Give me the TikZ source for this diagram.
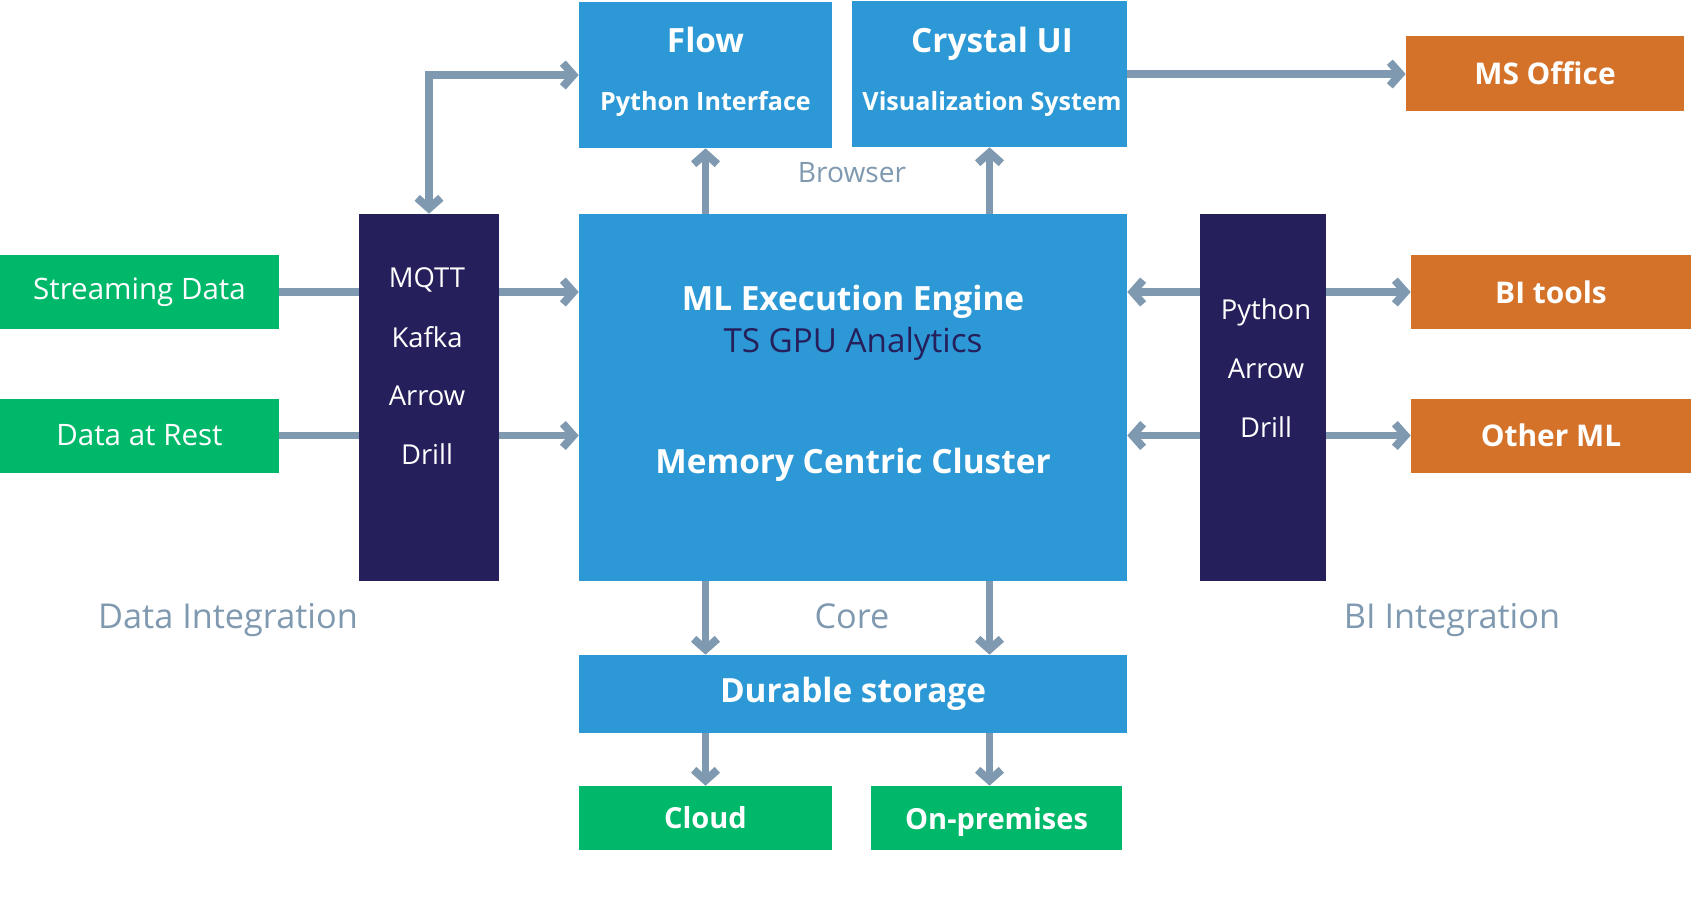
\documentclass[tikz,border=0pt]{standalone}
\usepackage{fontspec}
\setmainfont{Open Sans}
\usetikzlibrary{arrows.meta,positioning}

\definecolor{boxblue}{HTML}{2C99D6}
\definecolor{boxnavy}{HTML}{25205B}
\definecolor{boxgreen}{HTML}{00B86A}
\definecolor{boxorange}{HTML}{D5722A}
\definecolor{linkgrey}{HTML}{7F99B0}

\tikzset{
  box/.style={rectangle, inner sep=0pt, text=white},
  bluebox/.style={box, fill=boxblue},
  navybox/.style={box, fill=boxnavy},
  greenbox/.style={box, fill=boxgreen, font=\fontsize{16.8pt}{20pt}\selectfont},
  orangebox/.style={box, fill=boxorange, font=\fontsize{17pt}{20pt}\selectfont\bfseries},
  boxtitle/.style={text=white, font=\fontsize{19pt}{22pt}\selectfont\bfseries},
  boxsub/.style={text=white, font=\fontsize{14.3pt}{18pt}\selectfont\bfseries},
  listitem/.style={text=white, font=\fontsize{15.6pt}{18pt}\selectfont},
  grouplabel/.style={text=linkgrey, font=\fontsize{19.5pt}{22pt}\selectfont},
  link/.style={draw=linkgrey, line width=4.5pt},
  chev/.tip={Straight Barb[length=6pt, width=13.5pt, line width=4.5pt]}
}

\begin{document}
\begin{tikzpicture}[x=0.02cm, y=-0.02cm]
  \useasboundingbox (0,0) rectangle (1692,921);

  % top row
  \node[bluebox, minimum width=5.06cm, minimum height=2.92cm] (flow) at (705.5,75) {};
  \node[boxtitle] (flowname) at (705.5,40) {Flow};
  \node[boxsub] (flowsub) at (705.5,104) {Python Interface};
  \node[bluebox, minimum width=5.5cm, minimum height=2.92cm] (crystal) at (989.5,74) {};
  \node[boxtitle] (crystalname) at (992,44) {Crystal UI};
  \node[boxsub] (crystalsub) at (992,104) {Visualization System};
  \node[orangebox, minimum width=5.56cm, minimum height=1.5cm] (msoffice) at (1545,73.5) {MS Office};

  % core
  \node[bluebox, minimum width=10.96cm, minimum height=7.34cm] (ml) at (853,397.5) {};
  \node[boxtitle] (mlname) at (853,302) {ML Execution Engine};
  \node[text=boxnavy, font=\fontsize{18.9pt}{22pt}\selectfont] (mlsub) at (853,344) {TS GPU Analytics};
  \node[boxtitle] (mlcluster) at (853,465) {Memory Centric Cluster};
  \node[bluebox, boxtitle, minimum width=10.96cm, minimum height=1.56cm] (storage) at (853,694) {Durable storage};
  \node[greenbox, font=\fontsize{16.5pt}{20pt}\selectfont\bfseries, minimum width=5.06cm, minimum height=1.28cm] (cloud) at (705.5,818) {Cloud};
  \node[greenbox, font=\fontsize{16.5pt}{20pt}\selectfont\bfseries, text depth=0pt, minimum width=5.02cm, minimum height=1.28cm] (onprem) at (996.5,818) {On-premises};

  % data integration
  \node[greenbox, minimum width=5.58cm, minimum height=1.48cm] (stream) at (139.5,292) {Streaming Data};
  \node[greenbox, minimum width=5.58cm, minimum height=1.48cm] (rest) at (139.5,435.5) {Data at Rest};
  \node[navybox, minimum width=2.8cm, minimum height=7.34cm] (mqtt) at (429,397.5) {};
  \node[listitem] (mqttone) at (427,280) {MQTT};
  \node[listitem] (mqtttwo) at (427,337) {Kafka};
  \node[listitem] (mqttthree) at (427,396) {Arrow};
  \node[listitem] (mqttfour) at (427,454) {Drill};

  % bi integration
  \node[navybox, minimum width=2.52cm, minimum height=7.34cm] (bi) at (1263,397.5) {};
  \node[listitem] (bione) at (1266,312) {Python};
  \node[listitem] (bitwo) at (1266,369) {Arrow};
  \node[listitem] (bithree) at (1266,427) {Drill};
  \node[orangebox, minimum width=5.6cm, minimum height=1.48cm] (bitools) at (1551,292) {BI tools};
  \node[orangebox, minimum width=5.6cm, minimum height=1.48cm] (otherml) at (1551,435.5) {Other ML};

  % group labels
  \node[grouplabel, font=\fontsize{16pt}{20pt}\selectfont] (browser) at (852,173) {Browser};
  \node[grouplabel] (core) at (852,616) {Core};
  \node[grouplabel] (dataint) at (228,620) {Data Integration};
  \node[grouplabel] (biint) at (1452,620) {BI Integration};

  % connectors
  \draw[link, chev-chev] (mqtt.north) |- (flow.west);
  \draw[link, -chev] (ml.north -| flow.south) -- (flow.south);
  \draw[link, -chev] (ml.north -| crystal.south) -- (crystal.south);
  \draw[link, -chev] (crystal.east) -- (crystal.east -| msoffice.west);
  \draw[link] (stream.east) -- (stream.east -| mqtt.west);
  \draw[link, -chev] (stream.east -| mqtt.east) -- (stream.east -| ml.west);
  \draw[link] (rest.east) -- (rest.east -| mqtt.west);
  \draw[link, -chev] (rest.east -| mqtt.east) -- (rest.east -| ml.west);
  \draw[link, -chev] (bitools.west -| bi.west) -- (bitools.west -| ml.east);
  \draw[link, -chev] (otherml.west -| bi.west) -- (otherml.west -| ml.east);
  \draw[link, -chev] (bitools.west -| bi.east) -- (bitools.west);
  \draw[link, -chev] (otherml.west -| bi.east) -- (otherml.west);
  \draw[link, -chev] (ml.south -| flow.south) -- (storage.north -| flow.south);
  \draw[link, -chev] (ml.south -| crystal.south) -- (storage.north -| crystal.south);
  \draw[link, -chev] (storage.south -| flow.south) -- (cloud.north -| flow.south);
  \draw[link, -chev] (storage.south -| crystal.south) -- (onprem.north -| crystal.south);
\end{tikzpicture}
\end{document}
